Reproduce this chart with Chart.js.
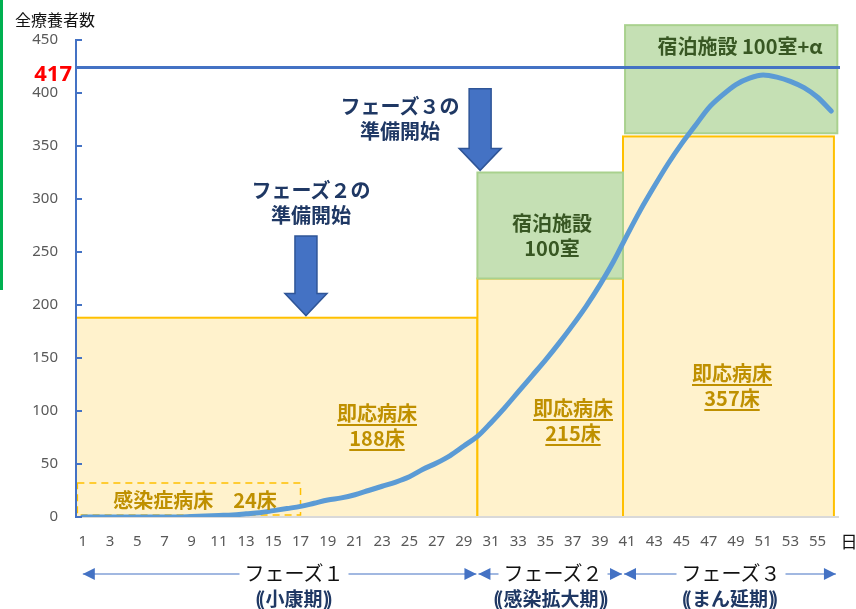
<!DOCTYPE html>
<html>
<head>
<meta charset="utf-8">
<script src="https://cdn.jsdelivr.net/npm/chart.js@4"></script>
<style>
    body { margin: 0; background: #fff; }
    #wrap { position: relative; width: 856px; height: 609px; overflow: hidden; font-family: "Noto Sans CJK JP", sans-serif; }
    #wrap canvas { position: absolute; left: 0; top: 0; }
    .lbl { position: absolute; transform: translate(-50%, -50%); white-space: nowrap; text-align: center; line-height: 25px; }
    .navy { color: #1F3864; font-weight: bold; font-size: 20px; }
    .gold { color: #BF9000; font-weight: bold; font-size: 20px; text-decoration: underline; text-underline-offset: 3px; }
    .green { color: #385723; font-weight: bold; font-size: 20px; }
    .phase { color: #111; font-size: 20px; background: #fff; padding: 0 5px; line-height: 24px; }
    .pp { letter-spacing: -4px; margin-right: 4px; }
</style>
</head>
<body>
<div id="wrap">
    <canvas id="chart" width="856" height="609"></canvas>
    <div style="position:absolute;left:0;top:0;width:3px;height:290px;background:#00B050;"></div>
    <div style="position:absolute;left:15px;top:7px;font-size:16px;color:#111;">全療養者数</div>
    <div style="position:absolute;right:784px;top:57px;font-size:22px;font-weight:bold;color:#FF0000;font-family:'Noto Sans',sans-serif;">417</div>
    <div class="lbl" style="left:849px;top:540px;font-size:17px;color:#111;">日</div>

    <div class="lbl navy" style="left:311px;top:202px;">フェーズ２の<br>準備開始</div>
    <div class="lbl navy" style="left:400px;top:118px;">フェーズ３の<br>準備開始</div>

    <div class="lbl gold" style="left:377px;top:425px;">即応病床<br>188床</div>
    <div class="lbl gold" style="left:573px;top:420px;">即応病床<br>215床</div>
    <div class="lbl gold" style="left:732px;top:385px;">即応病床<br>357床</div>
    <div class="lbl gold" style="left:195px;top:499px;text-decoration:none;">感染症病床　24床</div>

    <div class="lbl green" style="left:552px;top:235px;">宿泊施設<br>100室</div>
    <div class="lbl green" style="left:740px;top:45px;">宿泊施設 100室+α</div>

    <div class="lbl phase" style="left:294px;top:573px;">フェーズ１</div>
    <div class="lbl phase" style="left:553px;top:573px;">フェーズ２</div>
    <div class="lbl phase" style="left:731px;top:573px;">フェーズ３</div>
    <div class="lbl navy" style="left:294px;top:597px;font-size:19px;"><span class="pp">((</span>小康期<span class="pp">))</span></div>
    <div class="lbl navy" style="left:551px;top:597px;font-size:19px;"><span class="pp">((</span>感染拡大期<span class="pp">))</span></div>
    <div class="lbl navy" style="left:730px;top:597px;font-size:19px;"><span class="pp">((</span>まん延期<span class="pp">))</span></div>
</div>

<script>
// 日数（横軸）
const dayLabels = ['1','2','3','4','5','6','7','8','9','10','11','12','13','14','15','16','17','18','19','20',
    '21','22','23','24','25','26','27','28','29','30','31','32','33','34','35','36','37','38','39','40',
    '41','42','43','44','45','46','47','48','49','50','51','52','53','54','55','56'];

// 全療養者数（読み取り値）
const patients = [0, 0, 0, 0, 0, 0, 0, 0, 0.5, 1, 1.5, 2, 3, 4, 6, 8, 10, 13, 16, 18,
    21, 25, 29, 33, 38, 45, 51, 58, 67, 76, 89, 103, 118, 133, 148, 164, 181, 199, 219, 241,
    266, 290, 312, 333, 352, 369, 386, 398, 408, 414, 417, 415, 411, 405, 396, 383];

const yTicks = [0, 450, 50];          // min, max, step
const peakLine = 424;                 // 横線（図上の位置）

// 病床・宿泊施設の枠（日の区切り、人数）
const phaseBounds = [0.5, 30, 40.7, 56.2];
const bedCapacity = [188, 225, 359];
const hotelDays = [[30, 40.7], [40.85, 56.45]];
const hotelRange = [[225, 325], [362, 464]];
const infectBox = [0.6, 17, 32];      // 開始日, 終了日, 上端

// 準備開始の矢印（日, 上端, 先端）
const arrowDays = [17.4, 30.2];
const arrowFrom = [265, 404];
const arrowTo = [190, 327];

const BLUE = '#4472C4';

function px(chart, day) { return chart.scales.x.getPixelForValue(day - 1); }
function py(chart, v) { return chart.scales.y.getPixelForValue(v); }

function drawDownArrow(ctx, cx, top, tip) {
    const shaft = 11, head = 21, headLen = 22;
    ctx.beginPath();
    ctx.moveTo(cx - shaft, top);
    ctx.lineTo(cx + shaft, top);
    ctx.lineTo(cx + shaft, tip - headLen);
    ctx.lineTo(cx + head, tip - headLen);
    ctx.lineTo(cx, tip);
    ctx.lineTo(cx - head, tip - headLen);
    ctx.lineTo(cx - shaft, tip - headLen);
    ctx.closePath();
    ctx.fillStyle = BLUE;
    ctx.fill();
    ctx.strokeStyle = '#2F5597';
    ctx.lineWidth = 1.5;
    ctx.stroke();
}

function arrowHead(ctx, x, y, dir) {
    ctx.beginPath();
    ctx.moveTo(x, y);
    ctx.lineTo(x - dir * 12, y - 6);
    ctx.lineTo(x - dir * 12, y + 6);
    ctx.closePath();
    ctx.fill();
}

const boxesPlugin = {
    id: 'boxes',
    beforeDraw(chart) {
        const ctx = chart.ctx;
        ctx.save();
        // 即応病床
        ctx.fillStyle = '#FFF2CC';
        ctx.strokeStyle = '#FFC000';
        ctx.lineWidth = 2;
        for (let i = 0; i < bedCapacity.length; i++) {
            const x0 = px(chart, phaseBounds[i]), x1 = px(chart, phaseBounds[i + 1]);
            const y0 = py(chart, bedCapacity[i]), y1 = py(chart, 0);
            ctx.fillRect(x0, y0, x1 - x0, y1 - y0);
            ctx.strokeRect(x0, y0, x1 - x0, y1 - y0);
        }
        // 宿泊施設
        ctx.fillStyle = '#C5E0B4';
        ctx.strokeStyle = '#A9D18E';
        for (let i = 0; i < hotelDays.length; i++) {
            const x0 = px(chart, hotelDays[i][0]), x1 = px(chart, hotelDays[i][1]);
            const y0 = py(chart, hotelRange[i][1]), y1 = py(chart, hotelRange[i][0]);
            ctx.fillRect(x0, y0, x1 - x0, y1 - y0);
            ctx.strokeRect(x0, y0, x1 - x0, y1 - y0);
        }
        // 感染症病床（点線）
        ctx.strokeStyle = '#FFC000';
        ctx.lineWidth = 1.5;
        ctx.setLineDash([7, 5]);
        const dx0 = px(chart, infectBox[0]), dx1 = px(chart, infectBox[1]);
        const dy0 = py(chart, infectBox[2]), dy1 = py(chart, 0) - 2;
        ctx.strokeRect(dx0, dy0, dx1 - dx0, dy1 - dy0);
        ctx.restore();
    },
    afterDraw(chart) {
        const ctx = chart.ctx;
        const area = chart.chartArea;
        ctx.save();
        // 目盛（内向き）
        ctx.strokeStyle = BLUE;
        ctx.lineWidth = 2;
        chart.scales.y.ticks.forEach(t => {
            const y = py(chart, t.value);
            ctx.beginPath();
            ctx.moveTo(area.left, y);
            ctx.lineTo(area.left + 6, y);
            ctx.stroke();
        });
        // 横線
        ctx.lineWidth = 3;
        const hy = py(chart, peakLine);
        ctx.beginPath();
        ctx.moveTo(area.left, hy);
        ctx.lineTo(area.right + 2, hy);
        ctx.stroke();
        // 矢印
        for (let i = 0; i < arrowDays.length; i++) {
            drawDownArrow(ctx, px(chart, arrowDays[i]), py(chart, arrowFrom[i]), py(chart, arrowTo[i]));
        }
        // フェーズの範囲
        const by = 574;
        const segs = [[px(chart, 1), px(chart, phaseBounds[1]) - 1],
                      [px(chart, phaseBounds[1]) + 1, px(chart, phaseBounds[2]) - 1],
                      [px(chart, phaseBounds[2]) + 1, px(chart, phaseBounds[3]) + 2]];
        ctx.strokeStyle = BLUE;
        ctx.fillStyle = BLUE;
        ctx.lineWidth = 1.2;
        segs.forEach(s => {
            ctx.beginPath();
            ctx.moveTo(s[0], by);
            ctx.lineTo(s[1], by);
            ctx.stroke();
            arrowHead(ctx, s[0], by, -1);
            arrowHead(ctx, s[1], by, 1);
        });
        ctx.restore();
    }
};

new Chart(document.getElementById('chart'), {
    type: 'line',
    data: {
        labels: dayLabels,
        datasets: [{
            data: patients,
            borderColor: '#5B9BD5',
            borderWidth: 5,
            pointRadius: 0,
            fill: false,
            cubicInterpolationMode: 'monotone',
            borderCapStyle: 'round'
        }]
    },
    options: {
        responsive: false,
        animation: false,
        layout: { padding: { top: 40, right: 18, left: 0, bottom: 0 } },
        plugins: { legend: { display: false }, tooltip: { enabled: false } },
        scales: {
            x: {
                offset: true,
                afterFit: s => { s.height = 92; },
                grid: { display: false, drawTicks: false },
                border: { color: '#D9D9D9', width: 2 },
                ticks: {
                    autoSkip: false,
                    maxRotation: 0,
                    padding: 16,
                    color: '#595959',
                    font: { family: 'Noto Sans', size: 15 },
                    callback: (v, i) => (i % 2 === 0 ? dayLabels[i] : '')
                }
            },
            y: {
                min: yTicks[0],
                max: yTicks[1],
                afterFit: s => { s.width = 76; },
                grid: { display: false, drawTicks: false },
                border: { color: BLUE, width: 2 },
                ticks: {
                    stepSize: yTicks[2],
                    padding: 18,
                    color: '#595959',
                    font: { family: 'Noto Sans', size: 15 }
                }
            }
        }
    },
    plugins: [boxesPlugin]
});
</script>
</body>
</html>
